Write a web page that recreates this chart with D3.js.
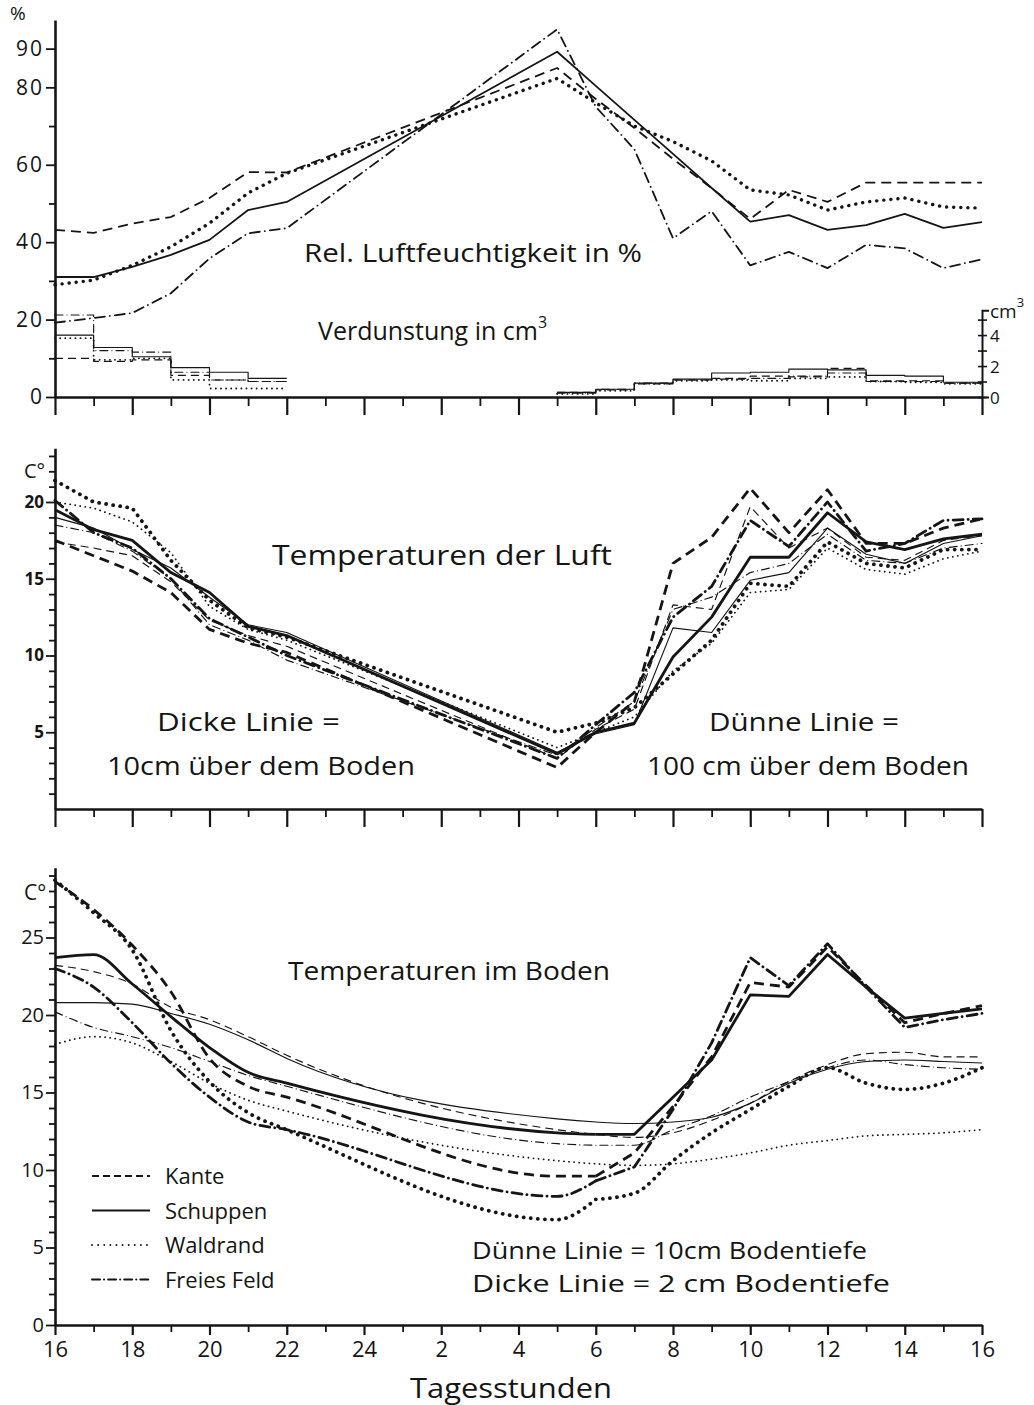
<!DOCTYPE html>
<html><head><meta charset="utf-8">
<script src="https://cdn.jsdelivr.net/npm/d3@7"></script>
<style>body{margin:0;background:#fff}svg text{font-family:"Open Sans",sans-serif;fill:#151515}</style>
</head><body>
<script>
// ---------- DATA ----------
const series = ["Kante", "Schuppen", "Waldrand", "Freies Feld"];
const hours = [16,17,18,19,20,21,22,29,30,31,32,33,34,35,36,37,38,39,40];
const tickHours = d3.range(16, 41);
const hourLabels = ["16","18","20","22","24","2","4","6","8","10","12","14","16"];

// Relative humidity (%)
const rhKante    = [43.2,42.4,44.8,46.5,51.4,58.1,58.0,85.0,77.0,69.5,61.5,54.0,46.0,53.5,50.4,55.4,55.4,55.4,55.4];
const rhSchuppen = [31.0,31.0,33.6,36.7,40.6,48.3,50.4,89.2,80.4,71.6,62.8,54.0,45.3,47.0,43.2,44.4,47.3,43.7,45.2];
const rhWaldrand = [29.0,30.2,34.0,38.8,44.9,52.7,57.8,82.3,76.0,70.0,66.0,61.0,53.5,52.2,48.3,50.4,51.4,49.1,48.8];
const rhFeld     = [19.2,20.4,21.7,26.8,35.8,42.3,43.6,95.0,75.0,64.0,41.0,48.0,34.0,37.5,33.3,39.3,38.4,33.3,35.6];

// Evaporation (cm3), hourly bins starting at these hours
const evHoursA = [16,17,18,19,20,21];
const evHoursB = [29,30,31,32,33,34,35,36,37,38,39];
const evKanteA    = [2.5,2.3,2.4,1.4,1.1,1.0];
const evSchuppenA = [4.0,3.2,2.6,1.9,1.6,1.2];
const evWaldrandA = [3.8,2.4,2.5,1.1,0.55,0.55];
const evFeldA     = [5.3,3.0,2.9,1.6,1.1,1.0];
const evKanteB    = [0.3,0.45,0.85,1.1,1.2,1.35,1.3,1.85,1.05,1.05,0.9];
const evSchuppenB = [0.3,0.5,0.9,1.15,1.55,1.6,1.8,1.75,1.4,1.35,0.95];
const evWaldrandB = [0.2,0.4,0.85,1.05,1.1,1.05,1.2,1.3,1.0,0.95,0.85];
const evFeldB     = [0.25,0.5,0.9,1.1,1.15,1.2,1.35,1.55,1.0,1.0,0.9];

// Air temperature (°C): thick = 10 cm, thin = 100 cm above ground
const airKante10     = [17.5,16.5,15.5,14.1,11.7,10.8,10.2,2.7,5.0,7.0,16.0,17.7,20.9,18.0,20.8,17.3,17.3,18.3,18.9];
const airKante100    = [17.4,17.0,16.5,14.8,12.3,11.3,10.6,3.3,5.2,6.5,13.3,13.0,19.7,17.0,18.3,16.4,16.2,17.5,17.8];
const airSchuppen10  = [19.5,18.2,17.5,15.4,14.1,11.9,11.3,3.6,5.0,5.6,9.9,12.5,16.4,16.4,19.3,17.4,16.9,17.6,17.9];
const airSchuppen100 = [19.0,18.3,16.9,15.7,13.8,12.0,11.5,3.7,4.9,5.5,11.8,11.5,14.9,15.4,18.3,16.6,16.0,17.3,17.8];
const airWaldrand10  = [21.4,20.0,19.6,16.2,13.6,11.8,11.2,5.0,5.6,6.6,8.8,11.0,14.7,14.5,17.4,16.0,15.7,16.9,16.9];
const airWaldrand100 = [20.0,19.6,18.7,16.7,13.2,11.7,11.0,4.0,5.0,6.0,9.0,10.8,14.1,14.3,17.0,15.6,15.3,16.3,16.8];
const airFeld10      = [20.1,18.0,17.0,15.0,12.4,11.2,10.0,3.3,5.5,7.6,12.5,14.5,18.8,17.1,20.0,16.8,17.3,18.8,18.9];
const airFeld100     = [18.5,18.0,16.8,15.0,12.0,11.0,9.7,3.5,5.3,7.0,13.0,13.8,15.4,16.0,17.9,16.2,16.0,17.0,17.3];

// Soil temperature (°C): thick = 2 cm, thin = 10 cm depth
const soilKante2     = [28.6,26.8,24.5,21.5,17.2,15.4,14.7,9.6,9.6,11.1,14.1,17.3,22.1,21.8,24.4,21.9,19.5,20.1,20.6];
const soilSchuppen2  = [23.7,23.9,22.0,19.9,17.9,16.3,15.6,12.4,12.3,12.3,14.7,17.1,21.3,21.2,23.9,21.8,19.8,20.1,20.4];
const soilWaldrand2  = [28.7,26.6,24.2,19.0,15.7,13.7,12.6,6.8,8.1,8.5,10.6,12.4,13.9,15.4,16.6,15.6,15.2,15.6,16.6];
const soilFeld2      = [23.0,21.8,19.5,16.9,14.7,13.1,12.6,8.3,9.3,10.2,13.9,18.2,23.7,21.9,24.6,21.8,19.2,19.7,20.1];
const soilKante10    = [23.2,22.8,22.0,20.5,19.7,18.6,17.4,12.6,12.3,12.1,12.4,13.2,14.3,15.7,16.8,17.5,17.6,17.3,17.3];
const soilSchuppen10 = [20.8,20.8,20.7,20.1,19.4,18.4,17.2,13.3,13.1,13.0,13.1,13.4,14.3,15.6,16.5,17.0,17.1,17.0,16.9];
const soilWaldrand10 = [18.1,18.6,18.2,17.0,15.6,14.5,13.8,10.6,10.4,10.3,10.4,10.7,11.1,11.6,11.9,12.2,12.3,12.4,12.6];
const soilFeld10     = [20.2,19.2,18.6,17.9,17.0,16.1,15.4,11.7,11.6,11.6,12.6,13.5,14.7,15.7,16.6,17.1,16.8,16.6,16.5];

// ---------- STYLES ----------
const dashStyle = {
  "Kante":      {thick:"10,6",  thin:"8,5",    med:"10,6",   cap:"butt"},
  "Schuppen":   {thick:null,    thin:null,     med:null,     cap:"butt"},
  "Waldrand":   {thick:"0.1,7", thin:"0.1,5",  med:"0.1,7",  cap:"round"},
  "Freies Feld":{thick:"10,5,0.1,5", thin:"8,4,0.1,4", med:"10,5,0.1,5", cap:"round"}
};
function widthOf(name, kind){
  if(name==="Waldrand") return kind==="thick"?3.8:(kind==="thin"?1.8:3.4);
  return kind==="thick"?2.8:(kind==="thin"?1.15:1.8);
}
const numFont = "'DejaVu Sans Condensed','Open Sans',sans-serif";

const W = 1034, H = 1405;
const svg = d3.select("body").append("svg").attr("width", W).attr("height", H);

const x = d3.scaleLinear().domain([16, 40]).range([55, 982]);
const yTop  = d3.scaleLinear().domain([0, 97.4]).range([397, 20]);
const yEvap = d3.scaleLinear().domain([0, 5.6]).range([397, 397 - 5.6 * 15.48]);
const yMid  = d3.scaleLinear().domain([0, 23.5]).range([809, 809 - 23.5 * 15.35]);
const yBot  = d3.scaleLinear().domain([0, 29.5]).range([1325, 1325 - 29.5 * 15.5]);

function drawSeries(g, xs, ys, yScale, name, kind, curve){
  const line = d3.line().x(d => x(d[0])).y(d => yScale(d[1])).curve(curve || d3.curveLinear);
  const st = dashStyle[name];
  const p = g.append("path")
    .datum(xs.map((h, i) => [h, ys[i]]))
    .attr("d", line)
    .attr("fill", "none")
    .attr("stroke", "#151515")
    .attr("stroke-width", widthOf(name, kind))
    .attr("stroke-linecap", st.cap)
    .attr("stroke-linejoin", "round");
  if (st[kind]) p.attr("stroke-dasharray", st[kind]);
}

function xAxis(yPos, longT, shortT, labels){
  const ax = d3.axisBottom(x).tickValues(tickHours).tickSizeOuter(0)
    .tickFormat(h => labels && h % 2 === 0 ? hourLabels[(h - 16) / 2] : "");
  const g = svg.append("g").attr("transform", `translate(0,${yPos})`).call(ax);
  g.select(".domain").attr("stroke-width", 2.6).attr("stroke", "#151515");
  g.selectAll(".tick line").attr("y2", d => d % 2 === 0 ? longT : shortT)
    .attr("stroke-width", d => d % 2 === 0 ? 2.2 : 1.8).attr("stroke", "#151515");
  g.selectAll(".tick text").attr("y", 16).attr("font-size", 22)
    .attr("font-family", numFont).attr("fill", "#151515");
  return g;
}

function yAxis(scale, vals, labelFn, fs){
  const ax = d3.axisLeft(scale).tickValues(vals).tickSizeOuter(0).tickFormat(labelFn);
  const g = svg.append("g").attr("transform", "translate(55,0)").call(ax);
  g.select(".domain").attr("stroke-width", 2.6).attr("stroke", "#151515");
  g.selectAll(".tick line").attr("x2", d => labelFn(d) !== "" ? -9 : -6).attr("stroke-width", 1.8).attr("stroke", "#151515");
  g.selectAll(".tick text").attr("x", -11).attr("font-size", fs)
    .attr("font-family", numFont).attr("fill", "#151515");
  return g;
}

// ---------- TOP PANEL ----------
yAxis(yTop, [0,10,20,30,40,50,60,70,80,90], d => (d % 20 === 0 || d === 90) ? String(d) : "", 21)
  .selectAll(".tick text").attr("letter-spacing", 2);
xAxis(397, 18, 9, false);
svg.append("text").attr("x", 10).attr("y", 20).attr("font-size", 19).text("%");

// right cm3 axis
const axR = d3.axisRight(yEvap).tickValues([0,1,2,3,4,5]).tickSizeOuter(7).tickFormat(d => d % 2 === 0 ? String(d) : "");
const gR = svg.append("g").attr("transform", "translate(982,0)").call(axR);
gR.select(".domain").attr("stroke-width", 2).attr("stroke", "#151515");
gR.selectAll(".tick line").attr("x1", -4).attr("x2", 5).attr("stroke-width", 1.6).attr("stroke", "#151515");
gR.selectAll(".tick text").attr("x", 8).attr("dy", "0.4em").attr("font-size", 17).attr("fill", "#151515");
const cmT = svg.append("text").attr("x", 990).attr("y", 318).attr("font-size", 19).text("cm");
cmT.append("tspan").attr("dy", -11).attr("font-size", 13).text("3");

const rhData = {"Kante": rhKante, "Schuppen": rhSchuppen, "Waldrand": rhWaldrand, "Freies Feld": rhFeld};
const gTop = svg.append("g");
series.forEach(s => drawSeries(gTop, hours, rhData[s], yTop, s, "med"));

// evaporation histograms
const evA = {"Kante": evKanteA, "Schuppen": evSchuppenA, "Waldrand": evWaldrandA, "Freies Feld": evFeldA};
const evB = {"Kante": evKanteB, "Schuppen": evSchuppenB, "Waldrand": evWaldrandB, "Freies Feld": evFeldB};
function stepPts(hs, vs){ const h = hs.concat([hs[hs.length-1] + 1]); const v = vs.concat([vs[vs.length-1]]); return [h, v]; }
series.forEach(s => {
  let [ha, va] = stepPts(evHoursA, evA[s]);
  drawSeries(gTop, ha, va, yEvap, s, "thin", d3.curveStepAfter);
  let [hb, vb] = stepPts(evHoursB, evB[s]);
  drawSeries(gTop, hb, vb, yEvap, s, "thin", d3.curveStepAfter);
});

svg.append("text").attr("x", 304).attr("y", 262).attr("font-size", 25).attr("textLength", 338).attr("lengthAdjust","spacingAndGlyphs").text("Rel. Luftfeuchtigkeit in %");
const vt = svg.append("text").attr("x", 318).attr("y", 340).attr("font-size", 25).text("Verdunstung in cm");
vt.append("tspan").attr("dy", -12).attr("font-size", 16).text("3");

// ---------- MIDDLE PANEL ----------
yAxis(yMid, d3.range(1, 24), d => d % 5 === 0 ? String(d) : "", 17).selectAll(".tick text").attr("font-weight", "bold");
xAxis(809, 18, 8, false);
svg.append("text").attr("x", 24).attr("y", 478).attr("font-size", 20).text("C°");

const airThick = {"Kante": airKante10, "Schuppen": airSchuppen10, "Waldrand": airWaldrand10, "Freies Feld": airFeld10};
const airThin  = {"Kante": airKante100, "Schuppen": airSchuppen100, "Waldrand": airWaldrand100, "Freies Feld": airFeld100};
const gMid = svg.append("g");
series.forEach(s => drawSeries(gMid, hours, airThin[s], yMid, s, "thin"));
series.forEach(s => drawSeries(gMid, hours, airThick[s], yMid, s, "thick"));

svg.append("text").attr("x", 272).attr("y", 565).attr("font-size", 27).attr("textLength", 340).attr("lengthAdjust","spacingAndGlyphs").text("Temperaturen der Luft");
svg.append("text").attr("x", 157).attr("y", 731).attr("font-size", 25).attr("textLength", 183).attr("lengthAdjust","spacingAndGlyphs").text("Dicke Linie =");
svg.append("text").attr("x", 107).attr("y", 775).attr("font-size", 25).attr("textLength", 308).attr("lengthAdjust","spacingAndGlyphs").text("10cm über dem Boden");
svg.append("text").attr("x", 709).attr("y", 731).attr("font-size", 25).attr("textLength", 190).attr("lengthAdjust","spacingAndGlyphs").text("Dünne Linie =");
svg.append("text").attr("x", 647).attr("y", 775).attr("font-size", 25).attr("textLength", 322).attr("lengthAdjust","spacingAndGlyphs").text("100 cm über dem Boden");

// ---------- BOTTOM PANEL ----------
yAxis(yBot, d3.range(0, 30), d => d % 5 === 0 ? String(d) : "", 20);
xAxis(1325, 10, 7, true);
svg.append("text").attr("x", 24).attr("y", 900).attr("font-size", 21).text("C°");

const soilThick = {"Kante": soilKante2, "Schuppen": soilSchuppen2, "Waldrand": soilWaldrand2, "Freies Feld": soilFeld2};
const soilThin  = {"Kante": soilKante10, "Schuppen": soilSchuppen10, "Waldrand": soilWaldrand10, "Freies Feld": soilFeld10};
const gBot = svg.append("g");
// smooth during the evening/night, angular during the day (as drawn in the original)
const splitIdx = hours.indexOf(30);
series.forEach(s => drawSeries(gBot, hours, soilThin[s], yBot, s, "thin", d3.curveMonotoneX));
series.forEach(s => {
  drawSeries(gBot, hours.slice(0, splitIdx + 1), soilThick[s].slice(0, splitIdx + 1), yBot, s, "thick", d3.curveMonotoneX);
  drawSeries(gBot, hours.slice(splitIdx), soilThick[s].slice(splitIdx), yBot, s, "thick", s === "Waldrand" ? d3.curveMonotoneX : d3.curveLinear);
});

svg.append("text").attr("x", 288).attr("y", 980).attr("font-size", 26).attr("textLength", 322).attr("lengthAdjust","spacingAndGlyphs").text("Temperaturen im Boden");

// legend
const lg = svg.append("g");
series.forEach((s, i) => {
  const yy = 1176 + i * 34.5;
  const st = dashStyle[s];
  const l = lg.append("line").attr("x1", 92).attr("x2", 150).attr("y1", yy).attr("y2", yy)
    .attr("stroke", "#151515").attr("stroke-width", s === "Waldrand" ? 1.8 : 2).attr("stroke-linecap", st.cap);
  if (st.thin) l.attr("stroke-dasharray", s === "Kante" ? "7,4" : (s === "Waldrand" ? "0.1,6" : "8,4,0.1,4"));
  lg.append("text").attr("x", 165).attr("y", yy + 8).attr("font-size", 22).text(s);
});

svg.append("text").attr("x", 472).attr("y", 1259).attr("font-size", 23).attr("textLength", 395).attr("lengthAdjust","spacingAndGlyphs").text("Dünne Linie = 10cm Bodentiefe");
svg.append("text").attr("x", 472).attr("y", 1292).attr("font-size", 23).attr("textLength", 418).attr("lengthAdjust","spacingAndGlyphs").text("Dicke Linie  =  2 cm Bodentiefe");
svg.append("text").attr("x", 410).attr("y", 1398).attr("font-size", 27).attr("textLength", 202).attr("lengthAdjust","spacingAndGlyphs").text("Tagesstunden");
</script>
</body></html>
